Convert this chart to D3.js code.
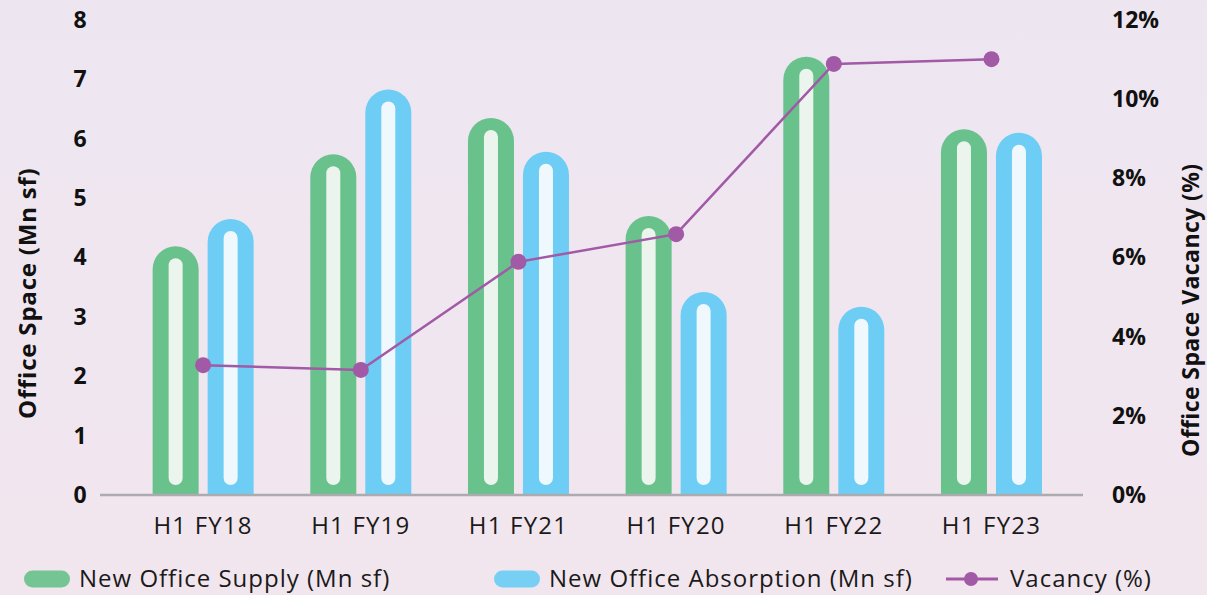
<!DOCTYPE html>
<html>
<head>
<meta charset="utf-8">
<script src="https://cdn.jsdelivr.net/npm/d3@7"></script>
<style>
  html, body { margin: 0; padding: 0; }
  body { width: 1207px; height: 595px; overflow: hidden; }
  svg { display: block; font-family: "Open Sans", "Noto Sans", sans-serif; }
</style>
</head>
<body>
<svg id="chart" width="1207" height="595"></svg>
<script>
// Half-year periods, in the order they are presented
const categories = ["H1 FY18", "H1 FY19", "H1 FY21", "H1 FY20", "H1 FY22", "H1 FY23"];
// New office supply, million sq ft
const supply = [4.19, 5.74, 6.35, 4.70, 7.38, 6.16];
// New office absorption, million sq ft
const absorption = [4.65, 6.83, 5.78, 3.42, 3.17, 6.10];
// Office space vacancy, percent
const vacancy = [3.28, 3.16, 5.89, 6.59, 10.89, 11.01];

const leftTicks = [0, 1, 2, 3, 4, 5, 6, 7, 8];
const rightTicks = [0, 2, 4, 6, 8, 10, 12];

const colors = {
  supply: "#69c18c",
  supplyInner: "#ebf5ee",
  absorption: "#6dcdf4",
  absorptionInner: "#eef8fd",
  vacancy: "#a259a6",
  axis: "#acabb0",
  text: "#111111"
};

const svg = d3.select("#chart");

// soft lavender backdrop
const defs = svg.append("defs");
const bg = defs.append("linearGradient").attr("id", "bg")
  .attr("x1", 0).attr("y1", 0).attr("x2", 0).attr("y2", 1);
bg.append("stop").attr("offset", "0%").attr("stop-color", "#ede6f1");
bg.append("stop").attr("offset", "100%").attr("stop-color", "#f2e6ee");
svg.append("rect").attr("width", 1207).attr("height", 595).attr("fill", "url(#bg)");

const x = d3.scaleBand().domain(categories).range([124.3, 1070.3]);
const yLeft = d3.scaleLinear().domain([0, 8]).range([495, 20]);
const yRight = d3.scaleLinear().domain([0, 12]).range([495, 20]);

const barW = 46, pairOffset = 27.5, innerW = 14, innerTop = 12, innerBottom = 10;

function capsuleTop(cx, top, bottom, w) {
  const r = w / 2, x0 = cx - r, x1 = cx + r;
  return `M${x0},${bottom}L${x0},${top + r}A${r},${r} 0 0 1 ${x1},${top + r}L${x1},${bottom}Z`;
}
function pill(cx, top, bottom, w) {
  const r = w / 2, x0 = cx - r, x1 = cx + r;
  return `M${x0},${bottom - r}L${x0},${top + r}A${r},${r} 0 0 1 ${x1},${top + r}L${x1},${bottom - r}A${r},${r} 0 0 1 ${x0},${bottom - r}Z`;
}

const series = [
  { values: supply, dx: -pairOffset, fill: colors.supply, inner: colors.supplyInner },
  { values: absorption, dx: pairOffset, fill: colors.absorption, inner: colors.absorptionInner }
];

series.forEach(s => {
  const g = svg.append("g");
  const cx = (d, i) => x(categories[i]) + x.bandwidth() / 2 + s.dx;
  g.selectAll("path.bar").data(s.values).join("path")
    .attr("class", "bar")
    .attr("fill", s.fill)
    .attr("d", (d, i) => capsuleTop(cx(d, i), yLeft(d), yLeft(0), barW));
  g.selectAll("path.inner").data(s.values).join("path")
    .attr("class", "inner")
    .attr("fill", s.inner)
    .attr("d", (d, i) => pill(cx(d, i), yLeft(d) + innerTop, yLeft(0) - innerBottom, innerW));
});

// baseline
svg.append("line")
  .attr("x1", 100).attr("x2", 1083)
  .attr("y1", yLeft(0)).attr("y2", yLeft(0))
  .attr("stroke", colors.axis).attr("stroke-width", 2.5);

// left axis
const leftAxis = svg.append("g").attr("transform", "translate(88,0)")
  .call(d3.axisLeft(yLeft).tickValues(leftTicks).tickSize(0).tickPadding(0).tickFormat(d3.format("d")));
leftAxis.select(".domain").remove();
leftAxis.selectAll("text")
  .attr("text-anchor", "middle").attr("x", -8)
  .attr("font-family", "'Open Sans', sans-serif")
  .attr("font-size", 23).attr("font-weight", 700).attr("fill", colors.text);

// right axis
const rightAxis = svg.append("g").attr("transform", "translate(1112,0)")
  .call(d3.axisRight(yRight).tickValues(rightTicks).tickSize(0).tickPadding(0).tickFormat(d => d + "%"));
rightAxis.select(".domain").remove();
rightAxis.selectAll("text")
  .attr("font-family", "'Open Sans', sans-serif")
  .attr("font-size", 23).attr("font-weight", 700).attr("fill", colors.text);

// category axis
const bottomAxis = svg.append("g").attr("transform", `translate(0,${yLeft(0)})`)
  .call(d3.axisBottom(x).tickSize(0).tickPadding(22));
bottomAxis.select(".domain").remove();
bottomAxis.selectAll("text")
  .attr("font-family", "'Open Sans', sans-serif")
  .attr("font-size", 24).attr("letter-spacing", 1.2).attr("fill", "#1a1a1a");

// axis titles
svg.append("text")
  .attr("transform", "translate(36,419) rotate(-90)")
  .attr("text-anchor", "start")
  .attr("font-size", 24).attr("font-weight", 700).attr("letter-spacing", 0.8)
  .attr("fill", colors.text)
  .text("Office Space (Mn sf)");
svg.append("text")
  .attr("transform", "translate(1199,457) rotate(-90)")
  .attr("text-anchor", "start")
  .attr("font-size", 23).attr("font-weight", 700).attr("letter-spacing", 0.4)
  .attr("fill", colors.text)
  .text("Office Space Vacancy (%)");

// vacancy line
const lineX = (d, i) => x(categories[i]) + x.bandwidth() / 2;
svg.append("path")
  .datum(vacancy)
  .attr("fill", "none").attr("stroke", colors.vacancy).attr("stroke-width", 2.5)
  .attr("d", d3.line().x(lineX).y(d => yRight(d)));
svg.append("g").selectAll("circle").data(vacancy).join("circle")
  .attr("cx", lineX).attr("cy", d => yRight(d)).attr("r", 8)
  .attr("fill", colors.vacancy);

// legend
const legendY = 579;
const legend = svg.append("g").attr("font-size", 24).attr("letter-spacing", 1).attr("fill", "#1a1a1a");
const legendItems = [
  { kind: "pill", color: colors.supply, x: 24, textX: 79, label: "New Office Supply (Mn sf)" },
  { kind: "pill", color: colors.absorption, x: 494, textX: 549, label: "New Office Absorption (Mn sf)" },
  { kind: "line", color: colors.vacancy, x: 946, textX: 1010, label: "Vacancy (%)" }
];
legendItems.forEach(item => {
  if (item.kind === "pill") {
    legend.append("rect")
      .attr("x", item.x).attr("y", legendY - 8.5).attr("width", 46).attr("height", 17)
      .attr("rx", 8.5).attr("fill", item.color).attr("opacity", 0.92);
  } else {
    legend.append("line")
      .attr("x1", item.x).attr("x2", item.x + 52).attr("y1", legendY).attr("y2", legendY)
      .attr("stroke", item.color).attr("stroke-width", 3);
    legend.append("circle").attr("cx", item.x + 25).attr("cy", legendY).attr("r", 7)
      .attr("fill", item.color);
  }
  legend.append("text").attr("x", item.textX).attr("y", legendY).attr("dy", "0.35em")
    .text(item.label);
});
</script>
</body>
</html>
